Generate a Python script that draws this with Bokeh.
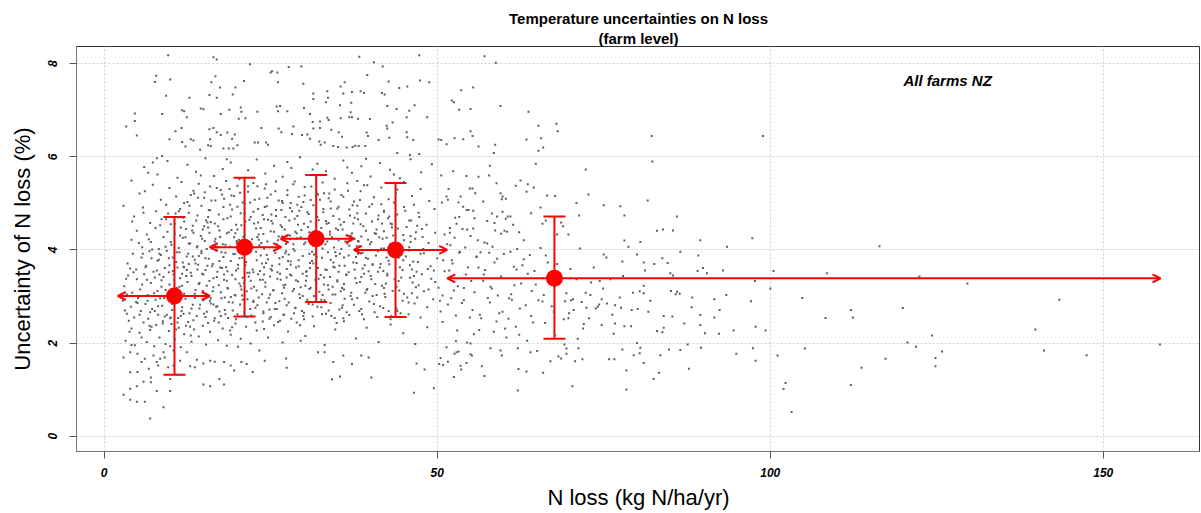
from bokeh.plotting import figure
from bokeh.models import (ColumnDataSource, Whisker, TeeHead, Arrow, OpenHead,
                          Label, Title, FixedTicker, Range1d)
from bokeh.embed import file_html
from bokeh.resources import INLINE

# ---------------- data ----------------
x_ticks = [0, 50, 100, 150]
y_ticks = [0, 2, 4, 6, 8]

# binned means with +/- ranges (red)
bin_x = [10.55, 21.07, 31.83, 43.74, 67.6]
bin_y = [3.01, 4.06, 4.24, 4.00, 3.39]
bin_y_lo = [1.32, 2.57, 2.88, 2.56, 2.09]
bin_y_hi = [4.71, 5.55, 5.61, 5.44, 4.72]
bin_x_lo = [2.04, 15.85, 26.5, 37.48, 51.5]
bin_x_hi = [15.85, 26.58, 37.48, 51.5, 158.6]

# farm points (gray)
pts_upper = [(9.6,8.18),(16.4,8.14),(16.9,8.09),(21.9,7.99),(38.3,8.15),(40.5,8.03),(47.3,8.18),(41.8,7.94),(27.7,7.93),(29.6,7.94),(25.2,7.84),(26.0,7.81),(25.0,7.81),(7.8,7.74),(7.6,7.61),(9.9,7.66),(16.7,7.73),(16.1,7.60),(17.4,7.49),(21.0,7.63),(19.7,7.49),(19.3,7.34),(26.1,7.60),(29.9,7.57),(39.5,7.76),(42.7,7.62),(47.4,7.64),(48.8,7.60),(44.3,7.48),(45.5,7.51),(36.1,7.60),(35.5,7.51),(31.4,7.36),(33.5,7.41),(35.9,7.36),(37.2,7.39),(38.5,7.41),(39.0,7.37),(41.7,7.37),(42.1,7.34),(9.3,7.31),(12.8,7.27),(15.8,7.33),(16.9,7.27),(31.4,7.24),(33.3,7.17),(33.6,7.27),(37.1,7.16),(46.6,7.11),(42.5,7.09),(35.4,7.11),(4.6,6.93),(4.6,6.77),(3.3,6.65),(4.9,6.46),(8.7,6.92),(11.7,7.00),(12.0,6.98),(12.4,6.85),(14.5,7.04),(14.9,7.02),(17.5,6.92),(18.8,7.01),(20.5,7.06),(20.6,6.97),(20.2,6.82),(21.2,6.83),(23.0,6.97),(25.9,7.08),(26.4,7.09),(26.1,6.98),(27.5,6.98),(30.0,7.05),(30.9,6.92),(31.3,6.75),(32.4,6.76),(33.5,6.84),(33.7,6.79),(35.5,6.83),(36.8,6.85),(37.2,6.85),(37.0,6.96),(38.1,6.82),(39.9,6.81),(43.3,6.74),(42.5,6.61),(43.9,7.03),(45.8,6.99),(48.5,6.85),(45.4,6.85)]

pts_mid6 = [(10.7,6.55),(11.6,6.62),(9.8,6.38),(11.7,6.32),(13.0,6.38),(13.4,6.35),(12.2,6.22),(14.4,6.15),(15.8,6.59),(16.4,6.62),(16.9,6.53),(17.5,6.47),(18.5,6.52),(19.2,6.39),(19.6,6.48),(15.9,6.38),(15.6,6.25),(16.0,6.23),(17.9,6.18),(18.7,6.18),(19.4,6.18),(20.0,6.25),(23.6,6.62),(22.6,6.31),(23.1,6.31),(24.3,6.31),(24.6,6.26),(26.2,6.61),(26.6,6.53),(28.4,6.65),(28.2,6.49),(29.7,6.47),(30.5,6.48),(30.9,6.39),(31.4,6.61),(32.4,6.62),(34.1,6.58),(35.2,6.53),(35.7,6.43),(34.4,6.23),(35.1,6.21),(32.3,6.33),(33.1,6.31),(32.5,6.26),(36.4,6.20),(37.3,6.21),(37.7,6.24),(38.2,6.23),(39.4,6.52),(39.6,6.45),(39.2,6.23),(41.2,6.36),(42.8,6.41),(44.0,6.08),(42.4,6.67),(45.4,6.53),(45.5,6.42),(46.4,6.36),(45.9,6.04),(47.3,6.06),(50.2,6.37),(51.4,6.27),(2.9,4.95),(5.9,4.80),(6.1,5.26),(6.6,5.66),(4.1,5.49),(7.9,5.97),(7.3,5.88),(8.7,6.02)]

pts_right = [(57.1,8.16),(58.8,8.02),(55.4,7.49),(53.6,7.43),(52.2,7.21),(52.5,7.17),(53.3,7.01),(55.0,7.03),(59.5,7.09),(63.7,6.97),(65.2,6.67),(67.9,6.71),(68.1,6.55),(55.0,6.55),(55.3,6.45),(52.6,6.40),(53.9,6.38),(50.6,6.36),(63.4,6.37),(65.6,6.40),(56.2,6.22),(58.7,6.26),(58.5,6.08),(65.2,6.13),(65.9,6.20),(82.2,6.45),(98.9,6.45),(82.3,5.90),(57.9,5.81),(64.8,5.85),(72.3,5.73),(54.4,5.59),(56.2,5.57),(57.8,5.60),(50.6,5.60),(62.5,5.49),(61.8,5.38),(63.6,5.41),(64.5,5.34),(63.4,5.25),(51.7,5.31),(54.9,5.32),(55.3,5.32),(59.5,5.22),(59.8,5.15),(60.3,5.10),(59.7,5.09),(66.5,5.17),(67.7,5.16),(72.7,5.19),(70.9,5.01),(75.0,4.96),(77.5,4.94),(78.1,4.74),(81.6,5.06),(86.0,4.72),(83.0,4.41),(83.9,4.44),(85.4,4.42),(97.3,4.25),(51.4,5.15),(51.6,5.08),(53.2,5.02),(50.7,5.02),(53.5,5.15),(65.5,4.91),(71.3,4.74),(69.7,4.33),(68.9,4.51),(68.6,4.59),(66.3,4.63),(65.8,4.56),(54.4,4.86),(54.7,4.86),(55.4,4.84),(58.2,4.78),(59.0,4.72),(59.8,4.82),(60.6,4.72),(61.0,4.72),(60.3,4.67),(52.7,4.69),(53.3,4.71),(52.9,4.56),(51.9,4.47),(53.8,4.45),(55.6,4.68),(57.5,4.62),(58.6,4.58),(55.4,4.46),(54.5,4.44),(58.7,4.42),(59.6,4.35),(60.1,4.41),(62.3,4.38),(51.1,4.33),(51.9,4.37)]

pts_lowright = [(78.1,4.20),(80.5,4.17),(89.5,4.21),(93.5,4.07),(78.7,4.07),(71.4,4.03),(75.0,3.90),(75.4,3.84),(80.0,3.90),(83.8,3.82),(86.5,3.96),(89.2,3.88),(77.8,3.75),(81.0,3.73),(82.6,3.70),(81.2,3.56),(85.0,3.50),(85.4,3.45),(89.1,3.55),(89.9,3.61),(90.5,3.50),(92.9,3.56),(100.5,3.55),(100.0,3.17),(104.8,2.97),(97.7,3.33),(93.4,3.03),(91.6,2.94),(97.1,2.90),(88.3,2.98),(92.4,2.71),(89.5,2.60),(91.6,2.55),(97.8,2.35),(99.3,2.27),(94.5,2.27),(92.3,2.20),(90.2,2.21),(89.5,2.39),(88.2,2.77),(85.3,2.57),(84.0,2.58),(84.0,2.33),(83.8,2.23),(83.0,2.26),(81.7,2.67),(80.1,2.73),(79.2,2.71),(77.6,2.76),(77.4,2.98),(76.7,2.81),(75.5,2.85),(74.7,2.94),(74.3,2.83),(74.1,2.78),(73.8,2.74),(72.4,2.76),(73.0,3.03),(72.3,3.08),(74.4,3.33),(73.1,3.30),(76.0,3.37),(79.4,3.08),(80.4,3.11),(81.0,3.23),(85.1,3.12),(86.0,3.10),(86.4,3.06),(85.8,3.05),(81.0,3.07),(78.1,2.36),(76.7,2.42),(74.7,2.39),(76.5,2.20),(71.9,2.31),(72.0,2.41),(71.1,2.09),(70.5,2.71),(70.4,2.94),(70.1,2.92),(69.7,2.53),(69.0,2.51),(69.2,2.90),(80.0,2.00),(80.5,1.90),(79.5,1.74),(80.4,1.78),(81.0,1.57),(83.5,1.74),(84.8,1.86),(86.5,1.85),(87.6,1.97),(89.6,1.90),(94.9,1.77),(97.4,1.89),(97.8,1.62),(101.1,1.73),(105.2,1.88),(102.3,1.14),(102.0,1.01),(103.2,0.52),(87.8,1.45),(83.3,1.36),(82.5,1.23),(78.4,1.41),(78.4,1.00),(77.8,1.86),(76.6,1.65),(75.8,1.65),(71.8,1.65),(71.2,1.89),(70.7,1.61),(70.3,1.07),(69.1,1.97),(69.4,1.88),(69.4,1.77),(68.2,1.71),(68.6,1.67),(67.0,1.61),(65.9,1.36),(63.4,1.39),(62.2,1.44),(62.1,0.98),(65.0,1.83),(64.0,1.80),(62.1,1.89),(59.7,1.73),(59.5,1.84),(58.0,1.89),(57.1,1.29),(56.7,1.50),(55.2,1.73),(55.0,1.76),(54.4,1.57),(53.5,1.51),(53.6,1.43),(52.5,1.27),(51.6,1.60),(50.9,1.53),(50.5,1.68),(51.4,1.91),(52.9,1.80),(52.6,1.77),(53.2,1.82),(55.0,1.99),(54.5,2.01),(52.8,2.04)]

pts_tail = [(116.4,4.08),(108.5,3.50),(122.4,3.43),(129.6,3.28),(143.4,2.93),(112.1,2.71),(108.3,2.54),(112.4,2.55),(119.9,2.75),(139.8,2.29),(124.3,2.16),(120.6,2.01),(121.9,1.92),(125.8,1.82),(141.1,1.84),(147.5,1.74),(158.5,1.97),(117.3,1.66),(124.8,1.68),(124.8,1.50),(113.7,1.47),(112.1,1.10)]

pts_lowleft = [(6.9,0.38),(8.9,0.62),(3.9,0.78),(4.9,0.74),(6.1,0.74),(2.9,0.89),(7.9,0.97),(9.9,0.97),(3.9,1.02),(4.9,1.07),(5.9,1.17),(7.0,1.26),(7.0,1.16),(14.9,1.11),(15.9,1.07),(17.3,1.23),(18.0,1.11),(3.9,1.37),(5.0,1.38),(6.7,1.45),(10.9,1.32),(9.9,1.23),(22.3,1.38),(27.4,1.47),(34.2,1.22),(35.4,1.28),(40.1,1.26),(46.5,0.93),(49.5,1.03),(48.1,1.43),(50.3,1.55),(46.9,1.56),(37.2,1.55),(35.9,1.73),(34.4,1.59),(38.6,1.73),(39.7,1.69),(32.1,1.80),(33.1,1.80),(27.3,1.67),(24.1,1.62),(23.3,1.84),(21.4,1.55),(20.6,1.59),(19.5,1.41),(19.0,1.52),(18.0,1.59),(16.6,1.60),(15.9,1.62),(14.9,1.56),(13.6,1.48),(12.9,1.50),(11.4,1.62),(13.9,1.64),(12.4,1.80),(7.9,1.59),(8.4,1.66),(8.1,1.52),(9.1,1.69),(7.4,1.73),(8.9,1.80),(6.1,1.66),(5.6,1.59),(5.0,1.77),(3.9,1.80),(2.9,1.69),(4.1,1.96),(10.4,1.84),(10.4,1.52),(9.6,1.48)]

pts_band_a = [(3.2,2.05),(4.1,2.31),(4.6,1.95),(5.3,2.22),(5.9,2.44),(6.4,2.02),(6.9,2.28),(7.5,1.93),(7.8,2.39),(8.3,2.12),(8.8,2.47),(9.2,1.98),(9.7,2.26),(10.1,2.41),(10.6,2.08),(11.2,2.33),(11.5,1.91),(12.0,2.19),(12.6,2.45),(13.1,2.03),(13.5,2.29),(14.2,2.14),(14.8,2.37),(15.3,1.97),(15.9,2.24),(16.5,2.48),(17.1,2.06),(17.8,2.31),(18.4,1.94),(19.0,2.18),(19.7,2.42),(20.5,2.09),(21.3,2.35),(22.0,1.99),(22.9,2.27),(23.8,2.46),(24.6,2.12),(25.5,2.38),(26.8,2.01),(27.6,2.25),(28.9,2.44),(30.2,2.15),(31.5,2.36),(33.1,1.96),(34.7,2.29),(36.0,2.47),(37.8,2.10),(39.4,2.33),(41.2,2.02),(43.0,2.40),(44.9,2.21),(46.7,1.98),(48.5,2.34),(56.3,2.28),(58.9,2.46),(60.4,2.12),(61.8,2.35),(63.5,2.05),(66.2,2.43),(67.7,2.17),(3.7,2.48),(5.6,2.12),(7.1,2.35),(9.9,1.93),(12.3,2.37),(15.6,2.43),(18.9,2.27),(20.1,1.92),(24.0,2.30),(26.1,2.45),(29.5,2.05)]

pts_band_b = [(2.8,2.91),(3.4,2.63),(4.0,2.78),(4.5,2.55),(5.1,2.97),(5.5,2.69),(6.2,2.84),(6.6,2.52),(7.2,2.73),(7.7,2.93),(8.1,2.61),(8.7,2.80),(9.1,2.57),(9.6,2.99),(10.2,2.71),(10.7,2.86),(11.1,2.54),(11.7,2.77),(12.2,2.95),(12.8,2.64),(13.3,2.82),(13.9,2.58),(14.3,2.74),(14.9,2.92),(15.4,2.67),(16.0,2.85),(16.6,2.53),(17.0,2.79),(17.6,2.96),(18.2,2.62),(18.7,2.88),(19.3,2.70),(19.8,2.51),(20.4,2.83),(21.0,2.66),(21.5,2.94),(22.1,2.59),(22.7,2.76),(23.2,2.98),(23.9,2.68),(24.4,2.87),(25.0,2.56),(25.6,2.73),(26.3,2.90),(26.9,2.61),(27.4,2.81),(28.1,2.52),(28.7,2.75),(29.4,2.97),(30.0,2.65),(30.7,2.84),(31.3,2.57),(32.0,2.78),(32.6,2.93),(33.3,2.63),(34.0,2.86),(34.6,2.54),(35.3,2.72),(36.1,2.95),(36.8,2.60),(37.5,2.82),(38.3,2.69),(39.0,2.51),(39.8,2.89),(40.6,2.66),(41.4,2.79),(42.2,2.99),(43.1,2.58),(43.9,2.74),(44.8,2.91),(45.7,2.62),(46.6,2.85),(47.5,2.55),(48.5,2.77),(49.4,2.94),(50.5,2.68),(51.6,2.83),(52.8,2.59),(54.0,2.92),(55.3,2.71),(56.6,2.53),(57.9,2.87),(59.3,2.64),(60.8,2.96),(62.4,2.74),(64.1,2.58),(65.8,2.89),(67.5,2.67),(3.1,2.70),(4.8,2.88),(6.9,2.66),(8.4,2.96),(10.0,2.55),(11.9,2.63),(13.6,2.97),(15.2,2.56),(17.3,2.68),(19.0,2.99),(20.9,2.57),(22.4,2.88),(24.8,2.72),(27.1,2.95),(29.9,2.58),(31.8,2.91),(33.7,2.70),(35.9,2.53),(38.0,2.97),(41.0,2.56),(44.0,2.69),(47.0,2.98)]

pts_band_c = [(3.0,3.22),(3.6,3.45),(4.2,3.08),(4.9,3.37),(5.4,3.15),(6.0,3.48),(6.5,3.03),(7.0,3.29),(7.6,3.41),(8.0,3.12),(8.6,3.35),(9.3,3.01),(9.8,3.26),(10.4,3.47),(10.9,3.18),(11.4,3.39),(12.0,3.06),(12.5,3.31),(13.1,3.44),(13.7,3.14),(14.2,3.27),(14.7,3.49),(15.3,3.04),(15.8,3.33),(16.4,3.20),(16.9,3.42),(17.5,3.09),(18.0,3.36),(18.6,3.17),(19.2,3.46),(19.7,3.02),(20.3,3.28),(20.8,3.40),(21.4,3.11),(22.0,3.34),(22.5,3.21),(23.1,3.48),(23.7,3.05),(24.2,3.30),(24.9,3.43),(25.4,3.13),(26.0,3.38),(26.7,3.07),(27.2,3.25),(27.9,3.47),(28.5,3.16),(29.1,3.32),(29.8,3.01),(30.4,3.44),(31.0,3.19),(31.7,3.36),(32.3,3.10),(33.0,3.41),(33.6,3.24),(34.3,3.04),(35.0,3.35),(35.7,3.18),(36.4,3.46),(37.1,3.08),(37.9,3.29),(38.6,3.42),(39.4,3.14),(40.1,3.37),(40.9,3.03),(41.7,3.23),(42.5,3.45),(43.3,3.12),(44.2,3.33),(45.0,3.06),(45.9,3.40),(46.8,3.20),(47.7,3.48),(48.7,3.15),(49.7,3.31),(50.8,3.02),(51.9,3.38),(53.1,3.22),(54.3,3.47),(55.6,3.09),(56.9,3.34),(58.2,3.17),(59.6,3.43),(61.1,3.05),(62.6,3.28),(64.2,3.12),(65.9,3.39),(67.6,3.21),(69.4,3.07),(3.3,3.38),(5.7,3.26),(8.3,3.47),(11.7,3.23),(14.5,3.01),(17.2,3.24),(20.6,3.15),(23.4,3.36),(26.4,3.49),(29.5,3.20),(32.8,3.03),(36.0,3.27),(39.0,3.49),(42.0,3.18),(46.3,3.30),(52.5,3.13)]

pts_band_d = [(3.5,3.71),(4.3,3.92),(4.8,3.58),(5.6,3.84),(6.3,3.66),(6.8,3.97),(7.4,3.53),(8.0,3.77),(8.5,3.89),(9.1,3.61),(9.7,3.82),(10.3,3.55),(10.8,3.74),(11.3,3.95),(11.9,3.64),(12.4,3.86),(13.0,3.51),(13.6,3.79),(14.1,3.68),(14.6,3.93),(15.2,3.57),(15.7,3.81),(16.3,3.70),(16.8,3.99),(17.4,3.62),(17.9,3.85),(18.5,3.54),(19.0,3.76),(19.6,3.91),(20.1,3.60),(20.7,3.83),(21.2,3.67),(21.8,3.96),(22.4,3.52),(22.9,3.78),(23.5,3.88),(24.0,3.63),(24.6,3.80),(25.2,3.56),(25.7,3.94),(26.3,3.69),(26.8,3.85),(27.4,3.59),(28.0,3.75),(28.6,3.98),(29.2,3.65),(29.8,3.87),(30.3,3.53),(30.9,3.72),(31.5,3.90),(32.1,3.61),(32.7,3.83),(33.4,3.57),(34.0,3.79),(34.7,3.95),(35.3,3.66),(36.0,3.84),(36.7,3.52),(37.4,3.73),(38.1,3.92),(38.8,3.60),(39.6,3.81),(40.3,3.68),(41.1,3.97),(41.9,3.55),(42.7,3.77),(43.6,3.89),(44.4,3.63),(45.3,3.86),(46.2,3.58),(47.1,3.74),(48.0,3.93),(49.0,3.65),(50.0,3.82),(51.1,3.54),(52.2,3.78),(53.4,3.96),(54.6,3.62),(55.9,3.85),(57.2,3.57),(58.6,3.73),(60.0,3.91),(61.5,3.64),(63.0,3.80),(64.6,3.55),(66.3,3.88),(68.0,3.70),(70.0,3.59),(3.9,3.60),(7.1,3.82),(9.4,3.98),(12.7,3.70),(15.5,3.66),(18.2,3.94),(21.5,3.51),(24.3,3.72),(27.7,3.90),(31.2,3.76),(34.4,3.64),(37.8,3.85),(41.5,3.70),(45.8,3.99),(49.5,3.56),(56.5,3.95)]

pts_band_e = [(4.1,4.22),(4.9,4.41),(5.7,4.06),(6.4,4.33),(7.0,4.17),(7.7,4.47),(8.2,4.02),(8.9,4.28),(9.5,4.39),(10.1,4.11),(10.6,4.35),(11.2,4.04),(11.8,4.26),(12.3,4.45),(12.9,4.14),(13.4,4.37),(14.0,4.08),(14.5,4.30),(15.1,4.19),(15.6,4.48),(16.2,4.03),(16.7,4.24),(17.3,4.42),(17.8,4.12),(18.4,4.36),(18.9,4.07),(19.5,4.27),(20.0,4.44),(20.6,4.15),(21.1,4.32),(21.7,4.01),(22.2,4.23),(22.8,4.46),(23.3,4.10),(23.9,4.34),(24.5,4.18),(25.0,4.40),(25.6,4.05),(26.2,4.29),(26.7,4.49),(27.3,4.13),(27.9,4.31),(28.4,4.02),(29.0,4.25),(29.6,4.43),(30.2,4.16),(30.8,4.38),(31.4,4.09),(32.0,4.27),(32.6,4.47),(33.2,4.12),(33.9,4.33),(34.5,4.05),(35.2,4.21),(35.8,4.44),(36.5,4.14),(37.2,4.36),(37.9,4.08),(38.6,4.29),(39.3,4.41),(40.1,4.17),(40.8,4.35),(41.6,4.03),(42.4,4.26),(43.2,4.48),(44.1,4.11),(44.9,4.32),(45.8,4.06),(46.7,4.24),(47.7,4.45),(48.7,4.15),(49.7,4.37),(52.0,4.10),(55.0,4.30),(57.5,4.14),(60.5,4.39),(63.0,4.21),(65.5,4.04),(68.0,4.33),(5.2,4.15),(9.2,4.07),(11.5,4.48),(14.8,4.44),(17.0,4.05),(19.9,4.19),(23.0,4.28),(25.9,4.12),(28.7,4.39),(31.7,4.20),(34.8,4.46),(38.2,4.18),(42.0,4.40),(46.0,4.30)]

pts_band_f = [(4.5,4.72),(5.8,4.91),(6.9,4.58),(7.8,4.83),(8.6,4.66),(9.3,4.97),(10.0,4.55),(10.7,4.78),(11.4,4.88),(12.0,4.61),(12.7,4.80),(13.3,4.52),(14.0,4.74),(14.6,4.95),(15.3,4.63),(15.9,4.85),(16.6,4.57),(17.2,4.76),(17.9,4.92),(18.5,4.68),(19.2,4.87),(19.8,4.54),(20.5,4.79),(21.1,4.99),(21.8,4.65),(22.4,4.82),(23.1,4.59),(23.8,4.75),(24.4,4.94),(25.1,4.62),(25.8,4.86),(26.5,4.53),(27.2,4.71),(27.9,4.90),(28.6,4.67),(29.3,4.84),(30.0,4.56),(30.7,4.77),(31.4,4.96),(32.2,4.64),(32.9,4.81),(33.7,4.58),(34.4,4.73),(35.2,4.93),(36.0,4.60),(36.8,4.87),(37.6,4.69),(38.5,4.55),(39.3,4.78),(40.2,4.98),(41.1,4.66),(42.0,4.84),(43.0,4.57),(44.0,4.76),(45.0,4.92),(46.1,4.63),(47.2,4.80),(48.4,4.54),(49.6,4.88),(11.0,4.70),(16.0,4.60),(20.0,4.93),(24.0,4.66),(29.0,4.97),(34.0,4.89),(38.0,4.95),(42.8,4.72),(46.5,4.97)]

pts_band_g = [(5.3,5.21),(7.3,5.40),(8.5,5.08),(9.8,5.33),(10.8,5.15),(11.6,5.46),(12.5,5.03),(13.4,5.27),(14.2,5.42),(15.0,5.12),(15.9,5.36),(16.7,5.06),(17.5,5.29),(18.3,5.48),(19.1,5.17),(20.0,5.38),(20.8,5.02),(21.6,5.25),(22.4,5.44),(23.3,5.10),(24.1,5.32),(25.0,5.19),(25.8,5.47),(26.7,5.05),(27.5,5.28),(28.4,5.41),(29.2,5.14),(30.1,5.35),(31.0,5.07),(31.9,5.23),(32.8,5.45),(33.7,5.11),(34.6,5.30),(35.6,5.18),(36.5,5.43),(37.5,5.04),(38.5,5.26),(39.5,5.39),(40.5,5.13),(41.6,5.34),(42.7,5.09),(43.8,5.22),(45.0,5.46),(46.2,5.16),(47.5,5.31),(48.8,5.05),(13.0,5.18),(18.0,5.10),(23.0,5.37),(28.0,5.01),(33.0,5.22),(38.0,5.48),(44.0,5.30)]

pts_band_h = [(6.0,5.78),(8.0,5.62),(9.5,5.91),(11.0,5.55),(12.5,5.83),(13.8,5.68),(15.2,5.97),(16.5,5.59),(17.8,5.74),(19.0,5.88),(20.3,5.52),(21.6,5.71),(22.9,5.94),(24.2,5.64),(25.5,5.81),(26.8,5.57),(28.1,5.76),(29.4,5.99),(30.7,5.61),(32.0,5.85),(33.3,5.69),(34.6,5.53),(35.9,5.92),(37.2,5.66),(38.6,5.80),(40.0,5.58),(41.4,5.87),(42.9,5.72),(44.4,5.54),(46.0,5.95),(47.6,5.67),(49.2,5.84),(14.5,5.60),(18.4,5.95),(27.5,5.89),(31.3,5.73),(36.5,5.77),(39.3,5.96),(43.5,5.62)]

pts_core2 = [(12.4,3.57),(27.8,4.63),(18.1,2.71),(35.4,3.92),(9.2,3.14),(22.6,5.08),(41.3,4.27),(15.7,4.86),(30.5,2.93),(6.8,2.37),(25.2,3.66),(44.6,3.41),(19.9,4.15),(33.8,5.21),(11.1,2.88),(38.7,2.62),(23.5,4.47),(14.3,3.29),(29.2,3.78),(47.9,4.02),(8.4,4.53),(20.7,3.02),(36.9,4.74),(26.4,2.48),(16.9,5.33),(42.8,3.69),(31.6,4.31),(13.0,2.16),(24.1,4.92),(39.5,3.16),(10.3,3.84),(28.6,5.47),(45.7,2.87),(17.6,3.95),(34.1,2.58),(21.8,3.51),(7.5,3.07),(32.9,4.88),(43.5,5.02),(19.2,2.34),(26.9,3.24),(11.9,4.69),(37.6,3.58),(15.0,2.63),(30.0,4.12),(40.2,4.61),(23.0,2.81),(9.9,2.53),(35.9,5.14),(18.7,4.38),(27.3,3.97),(46.4,3.75),(13.7,3.71),(32.2,3.38),(21.1,4.79),(41.9,2.75),(8.9,3.42),(25.7,5.26),(16.3,3.11),(38.1,4.19),(29.7,2.69),(12.8,4.95),(44.1,4.46),(20.3,3.82),(34.7,3.04),(24.7,2.97),(6.2,3.63),(31.1,5.36),(17.2,2.44),(39.0,5.39),(14.7,4.24),(28.1,3.45),(42.3,3.28),(22.2,4.04),(10.8,2.29),(36.3,3.47),(19.5,5.16),(33.4,4.56),(26.1,4.21),(47.2,3.24),(12.1,3.01),(30.9,3.61),(15.5,4.59),(40.8,3.88),(23.8,3.36),(8.1,2.79),(37.2,2.94),(18.3,3.63),(45.2,4.84),(27.0,2.61),(13.4,2.49),(35.1,4.43),(21.4,2.56),(29.9,5.03),(11.4,4.31),(43.0,2.51),(24.4,3.89),(16.6,4.18),(32.6,2.77),(39.8,4.93),(7.2,4.01),(28.9,4.36),(20.0,2.62),(34.4,3.73),(14.1,5.12),(41.1,3.53),(25.3,4.57),(10.5,3.36),(31.8,4.14),(17.9,4.66),(38.4,3.31),(22.9,3.13),(46.0,4.17),(9.6,4.78),(27.5,5.18),(15.9,2.91),(33.0,3.26),(19.7,3.37),(44.8,3.57),(12.6,3.92),(36.6,5.27),(23.2,4.33),(29.4,2.38),(40.5,2.84),(17.0,3.53),(30.4,3.54),(8.6,3.21),(26.6,4.86),(35.6,4.02),(21.6,5.37),(13.9,4.06),(42.6,4.68),(18.9,4.97),(32.4,5.08),(24.9,3.04),(11.6,2.69),(38.9,4.51),(28.3,3.11),(15.2,3.82),(45.5,2.98),(20.9,4.28),(34.9,2.43),(9.4,2.61),(26.0,3.52),(37.9,3.72),(16.1,5.06),(31.3,2.83),(43.8,3.96),(22.4,2.91),(13.2,4.42),(29.0,4.73),(40.0,3.44),(18.5,3.18),(35.3,4.66),(7.9,3.56),(24.3,5.41),(33.6,3.95),(11.0,3.62),(27.7,2.87),(46.8,4.38),(19.3,2.87),(36.0,3.15),(14.9,3.47),(30.6,4.49),(41.6,4.98),(23.6,4.15),(10.0,4.17),(38.3,4.08),(17.4,4.28),(28.8,3.35),(44.3,3.13),(21.3,3.74),(32.0,4.71),(12.3,3.44),(25.9,2.73),(39.3,3.83),(16.8,2.78),(34.2,4.27),(6.5,2.91),(27.1,4.44),(42.1,3.06),(20.6,4.53),(31.5,3.01),(13.6,3.06),(37.4,4.57),(23.9,2.64),(48.6,3.59),(18.0,3.47),(29.6,4.92),(10.9,3.95),(35.8,2.81),(22.0,4.71),(40.6,4.36),(15.4,4.02),(33.2,3.58),(26.3,3.82),(45.0,4.21),(12.9,2.35),(30.2,3.23),(19.1,4.43),(38.6,2.73),(8.3,3.92),(24.6,4.65),(36.7,3.88),(16.4,3.39),(43.2,4.55),(28.4,4.12),(21.0,3.29),(34.0,5.04),(11.3,3.21),(41.4,3.62),(25.0,3.59),(31.9,3.84),(17.7,5.19),(39.6,4.22),(14.4,2.82),(27.4,3.41),(46.2,3.07),(22.8,3.96),(9.0,2.97),(35.0,3.32),(20.1,3.68),(30.1,5.17),(13.8,4.63),(37.0,4.31),(24.2,3.21),(42.9,4.12),(18.6,2.54),(32.8,4.03),(10.6,4.56),(28.0,3.68),(44.9,3.78),(15.8,4.37),(26.8,5.01),(36.4,2.66),(21.9,2.73),(39.1,3.67),(12.0,5.01),(33.7,3.15),(23.4,3.55),(47.5,3.92),(17.3,3.76),(29.3,3.05),(40.9,4.44),(14.0,3.58),(31.0,4.61),(19.6,3.03),(35.5,4.54),(25.5,4.39),(43.6,3.37),(11.8,3.73),(37.7,3.39),(22.5,4.57),(27.9,4.23),(16.0,2.96),(34.6,3.62),(20.4,5.23),(42.4,3.84),(9.7,3.52),(30.8,3.92),(24.0,4.03),(38.0,4.79),(13.3,3.86),(45.8,4.63),(18.2,4.11),(32.5,3.46),(26.5,3.36),(40.3,3.01),(15.1,5.24),(29.5,4.27),(21.7,3.43),(36.2,4.18),(11.5,2.58),(33.9,4.39),(23.1,4.88),(41.8,4.24),(17.1,4.51),(28.7,2.76),(44.0,4.07),(19.8,3.56),(35.2,3.53),(14.6,3.97),(31.4,3.71),(25.8,4.73),(39.7,3.54),(12.7,4.14),(37.3,4.96),(22.1,3.17),(47.0,4.52),(16.2,3.65),(30.3,3.34),(27.2,3.93),(42.0,4.82),(20.2,4.22),(33.1,2.92),(50.8,2.45),(52.3,3.71),(53.7,2.86),(55.1,3.33),(56.4,2.61),(57.8,3.94),(59.1,3.02),(60.7,2.52),(61.9,3.58),(63.3,2.81),(64.8,3.26),(51.5,4.12),(54.2,4.05),(57.0,3.47),(58.5,2.24),(62.0,4.02),(66.9,3.51),(50.2,3.19),(53.0,2.27),(55.9,3.86),(58.0,3.21),(61.2,2.93),(63.9,3.89),(52.1,2.96),(56.1,4.21)]

pts_core3 = [(14.8,3.12),(33.5,4.18),(21.2,4.61),(40.7,3.27),(8.8,2.42),(27.6,3.76),(45.4,4.49),(17.5,2.58),(36.1,3.66),(24.5,5.12),(11.7,3.49),(30.0,2.51),(49.1,3.38),(19.4,3.91),(38.4,5.07),(6.4,3.36),(28.2,4.83),(42.7,2.69),(15.6,4.71),(34.3,3.21),(22.7,2.44),(47.3,4.71),(12.2,4.27),(31.7,4.42),(25.4,3.14),(39.9,4.12),(9.3,4.66),(18.8,5.31),(35.7,2.76),(44.2,3.83),(23.7,3.71),(13.1,2.74),(29.8,3.49),(41.7,4.57),(20.5,3.22),(32.1,5.19),(10.7,3.09),(26.7,4.29),(46.5,3.44),(16.7,4.09),(37.6,4.24),(7.6,2.69),(24.8,2.52),(43.4,4.31),(14.2,3.87),(33.9,3.42),(21.5,4.08),(39.2,3.08),(11.2,4.83),(28.5,2.64),(48.0,3.11),(18.4,3.34),(35.0,4.89),(25.1,4.76),(42.5,3.49),(9.8,3.67),(30.8,3.16),(16.4,2.83),(38.8,3.94),(22.3,3.58),(45.9,3.67),(13.5,5.21),(27.0,3.19),(36.8,4.09),(19.0,4.72),(32.7,2.62),(8.2,3.79),(24.0,3.47),(41.2,4.74),(15.0,4.51),(29.1,4.54),(47.8,4.28),(20.8,2.93),(34.8,3.87),(10.2,2.84),(26.2,5.06),(43.9,3.21),(17.7,3.61),(37.0,3.01),(23.2,4.22),(40.3,3.69),(12.0,3.63),(31.2,3.96),(21.9,5.02),(44.5,2.64),(15.4,3.23),(28.8,3.62),(38.1,4.66),(18.1,2.98),(33.3,4.62),(25.7,2.86),(46.9,3.53),(11.0,2.44),(30.5,4.81),(42.0,4.03),(19.7,4.36),(35.5,3.11),(5.3,2.61),(5.8,3.92),(4.4,3.52),(3.8,2.24),(6.7,4.23),(4.2,4.61),(3.4,3.04),(5.0,2.86),(50.4,2.91),(51.8,3.56),(53.3,3.94),(54.9,2.55),(56.2,3.62),(57.6,2.97),(59.0,3.81),(60.2,2.31),(61.6,3.24),(62.8,3.67),(64.4,2.44),(66.0,3.03),(67.2,2.79),(68.5,3.31),(52.6,4.26),(55.5,2.19),(58.3,4.07),(61.0,3.96),(63.6,3.49),(65.2,2.92),(50.9,3.78),(54.0,3.18),(57.1,4.16),(59.8,2.67),(62.3,2.18),(66.6,3.73),(69.8,2.64),(70.9,3.37),(71.7,2.88),(73.5,3.62),(72.8,2.53),(74.9,3.17),(76.3,2.61),(77.9,3.44),(79.1,2.36),(82.0,2.91),(84.6,3.72),(87.1,2.42),(53.9,4.93),(56.9,5.04),(61.4,4.54),(64.1,4.79),(58.9,5.43),(52.4,5.69),(55.7,5.22)]

all_pts = (pts_upper + pts_mid6 + pts_right + pts_lowright + pts_tail + pts_lowleft
           + pts_band_a + pts_band_b + pts_band_c + pts_band_d + pts_band_e
           + pts_band_f + pts_band_g + pts_band_h + pts_core2 + pts_core3)
farm_x = [pt[0] for pt in all_pts]
farm_y = [pt[1] for pt in all_pts]

# ---------------- figure ----------------
FONT = "Liberation Sans"
p = figure(width=1200, height=512,
           x_range=Range1d(-4.16, 164.6), y_range=Range1d(-0.33, 8.37),
           output_backend="svg", toolbar_location=None,
           min_border_left=76, min_border_right=0,
           min_border_top=46, min_border_bottom=59)
p.background_fill_color = "white"
p.border_fill_color = "white"
p.outline_line_color = "#333333"
p.outline_line_width = 1

# titles (two lines): added titles sit nearer the frame than the figure's own title
p.title.text = "Temperature uncertainties on N loss"
p.title.align = "center"
p.title.text_font = FONT
p.title.text_font_size = "15px"
p.title.text_font_style = "bold"
p.title.text_color = "black"
p.title.standoff = 2
p.add_layout(Title(text="(farm level)", align="center",
                   text_font=FONT, text_font_size="15px", text_font_style="bold",
                   text_color="black", standoff=0), "above")

# axes
p.xaxis.ticker = FixedTicker(ticks=x_ticks)
p.yaxis.ticker = FixedTicker(ticks=y_ticks)
for ax in (p.xaxis[0], p.yaxis[0]):
    ax.axis_line_color = "#777777"
    ax.major_tick_line_color = "#555555"
    ax.major_tick_out = 7
    ax.major_tick_in = 0
    ax.minor_tick_out = 0
    ax.minor_tick_in = 0
    ax.major_label_text_font = FONT
    ax.major_label_text_font_size = "12px"
    ax.major_label_text_font_style = "bold italic"
    ax.major_label_text_color = "black"
    ax.axis_label_text_font = FONT
    ax.axis_label_text_font_size = "22px"
    ax.axis_label_text_font_style = "normal"
    ax.axis_label_text_color = "black"
p.xaxis.axis_label = "N loss (kg N/ha/yr)"
p.yaxis.axis_label = "Uncertainty of N loss (%)"
p.xaxis.major_label_standoff = 9
p.xaxis.axis_label_standoff = 5
p.yaxis.major_label_orientation = "vertical"
p.yaxis.major_label_standoff = 12
p.yaxis.axis_label_standoff = 11

# grid
p.xgrid.ticker = FixedTicker(ticks=x_ticks)
p.ygrid.ticker = FixedTicker(ticks=y_ticks)
for g in (p.xgrid[0], p.ygrid[0]):
    g.grid_line_color = "#d0d0d0"
    g.grid_line_dash = "2 2"
    g.grid_line_width = 1

# farm points
p.scatter(farm_x, farm_y, marker="square", size=2, color="#5e5e5e", line_width=0)

# error bars
src = ColumnDataSource(dict(x=bin_x, y=bin_y, lo=bin_y_lo, hi=bin_y_hi,
                            xl=bin_x_lo, xr=bin_x_hi))
p.add_layout(Whisker(source=src, base="x", lower="lo", upper="hi", dimension="height",
                     line_color="red", line_width=2,
                     lower_head=TeeHead(size=22, line_color="red", line_width=2),
                     upper_head=TeeHead(size=22, line_color="red", line_width=2)))
p.add_layout(Arrow(source=src, x_start="xl", y_start="y", x_end="xr", y_end="y",
                   line_color="red", line_width=2,
                   start=OpenHead(size=8, line_color="red", line_width=2),
                   end=OpenHead(size=8, line_color="red", line_width=2)))
p.scatter("x", "y", source=src, size=17, color="red", line_width=0, level="overlay")

p.add_layout(Label(x=120.0, y=7.64, text="All farms NZ", text_font=FONT,
                   text_font_size="15px", text_font_style="bold italic",
                   text_baseline="middle", text_align="left", text_color="black"))

open("out.html", "w").write(file_html(p, INLINE))
